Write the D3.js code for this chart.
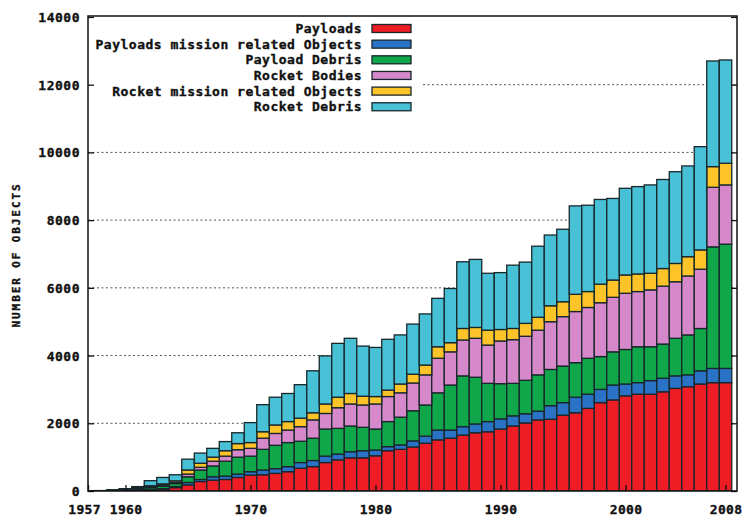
<!DOCTYPE html>
<html>
<head>
<meta charset="utf-8">
<script src="https://cdn.jsdelivr.net/npm/d3@7"></script>
<style>
  html, body { margin: 0; padding: 0; background: #fff; }
  svg { display: block; }
  text { font-family: "DejaVu Sans Mono", monospace; font-weight: bold; fill: #111; stroke: #111; stroke-width: 0.35px; }
</style>
</head>
<body>
<svg id="chart" width="748" height="523"></svg>
<script>
// ---- data (number of objects per category) ----
const years = [1957,1958,1959,1960,1961,1962,1963,1964,1965,1966,1967,1968,1969,1970,
  1971,1972,1973,1974,1975,1976,1977,1978,1979,1980,1981,1982,1983,1984,1985,1986,1987,
  1988,1989,1990,1991,1992,1993,1994,1995,1996,1997,1998,1999,2000,2001,2002,2003,2004,
  2005,2006,2007,2008];
const payloads = [2,5,10,20,30,35,50,100,180,280,320,340,400,470,480,520,570,670,720,840,
  920,980,980,1040,1190,1230,1300,1410,1510,1560,1650,1720,1750,1830,1920,2010,2100,2120,
  2240,2310,2440,2610,2690,2810,2860,2860,2930,3030,3080,3160,3200,3200];
const payloadMission = [0,0,2,5,10,20,20,30,70,60,100,100,100,100,140,140,150,170,180,190,
  170,180,210,170,120,130,180,210,290,240,250,260,300,300,300,270,260,400,370,460,420,390,
  440,350,340,400,400,370,350,390,420,420];
const payloadDebris = [0,0,3,8,20,50,70,90,170,280,320,440,500,460,610,690,710,630,660,800,
  760,760,690,620,740,820,890,920,1100,1330,1500,1380,1130,1040,960,990,1070,1070,1080,1020,
  1060,970,980,1020,1060,1000,1010,1110,1180,1250,3590,3670];
const rocketBodies = [2,5,10,20,30,20,30,30,80,80,140,150,220,230,330,350,370,430,540,460,
  610,650,660,740,740,720,820,890,1020,980,1060,1150,1130,1260,1290,1300,1320,1410,1460,1510,
  1500,1590,1610,1660,1630,1680,1710,1670,1740,1750,1760,1750];
const rocketMission = [0,0,2,5,10,30,40,50,120,120,120,160,180,170,190,250,250,250,210,280,
  310,310,260,220,190,260,260,290,340,270,340,320,440,340,330,380,380,470,440,510,470,550,
  510,540,520,490,520,540,570,570,610,640];
const rocketDebris = [0,3,5,10,30,150,190,180,320,300,260,270,320,590,800,820,830,990,1240,
  1420,1590,1630,1480,1450,1500,1450,1480,1510,1430,1600,1970,2010,1680,1680,1870,1810,2100,
  2090,2140,2610,2550,2500,2410,2560,2580,2610,2630,2710,2680,3050,3120,3050];

const seriesNames = ["Payloads", "Payloads mission related Objects", "Payload Debris",
  "Rocket Bodies", "Rocket mission related Objects", "Rocket Debris"];
const seriesColors = ["#ee1c24", "#2a72c6", "#10a64a", "#d689ca", "#fdc42a", "#48c0d6"];
const yTicks = [0,2000,4000,6000,8000,10000,12000,14000];
const gridTicks = [2000,4000,6000,8000,10000,12000];
const xTicks = [1957,1960,1970,1980,1990,2000,2008];
const yLabel = "NUMBER OF OBJECTS";

// ---- build table ----
const seriesArrays = [payloads, payloadMission, payloadDebris, rocketBodies, rocketMission, rocketDebris];
const table = years.map((yr, i) => {
  const row = { year: yr };
  seriesNames.forEach((n, k) => { row[n] = seriesArrays[k][i]; });
  return row;
});

const svg = d3.select("#chart");
const L = 88, R = 737, T = 16, B = 491;
const x = d3.scaleLinear().domain([1957, 2009]).range([L, L + 52 * 12.5]);
const y = d3.scaleLinear().domain([0, 14000]).range([B, B - 14 * 33.86]);

svg.append("defs").append("clipPath").attr("id", "plotclip")
  .append("rect").attr("x", L).attr("y", T).attr("width", R - L).attr("height", B - T);

// grid
const grid = svg.append("g");
grid.selectAll("line").data(gridTicks).join("line")
  .attr("x1", d => d === 12000 ? 423 : L)
  .attr("x2", R)
  .attr("y1", d => y(d)).attr("y2", d => y(d))
  .attr("stroke", "#555").attr("stroke-width", 1)
  .attr("stroke-dasharray", "2,2.5");

// bars
const stack = d3.stack().keys(seriesNames)(table);
const bars = svg.append("g").attr("clip-path", "url(#plotclip)");
stack.forEach((layer, k) => {
  bars.append("g").selectAll("rect").data(layer).join("rect")
    .attr("x", d => x(d.data.year - 0.5))
    .attr("width", d => x(d.data.year + 0.5) - x(d.data.year - 0.5))
    .attr("y", d => y(d[1]))
    .attr("height", d => Math.max(0, y(d[0]) - y(d[1])))
    .attr("fill", seriesColors[k])
    .attr("stroke", "#18262a")
    .attr("stroke-width", 1.3);
});

// border
svg.append("rect").attr("x", L).attr("y", T).attr("width", R - L).attr("height", B - T)
  .attr("fill", "none").attr("stroke", "#111").attr("stroke-width", 1.5);

// left axis
const yAxis = d3.axisLeft(y).tickValues(yTicks).tickSizeInner(-6).tickSizeOuter(0).tickPadding(8)
  .tickFormat(d3.format("d"));
const gy = svg.append("g").attr("transform", `translate(${L},0)`).call(yAxis);
gy.select(".domain").remove();
gy.selectAll("line").attr("stroke", "#111").attr("stroke-width", 1.3);
gy.selectAll("text").style("font-size", "13px").style("letter-spacing", "0.5px")
  .attr("fill", "#111").attr("dy", "0.35em");

// right mirror ticks
const yAxisR = d3.axisRight(y).tickValues(yTicks).tickSizeInner(-6).tickSizeOuter(0).tickFormat("");
const gyr = svg.append("g").attr("transform", `translate(${R},0)`).call(yAxisR);
gyr.select(".domain").remove();
gyr.selectAll("line").attr("stroke", "#111").attr("stroke-width", 1.3);

// bottom axis
const xAxis = d3.axisBottom(x).tickValues(xTicks).tickSizeInner(-6).tickSizeOuter(0).tickPadding(14)
  .tickFormat(d3.format("d"));
const gx = svg.append("g").attr("transform", `translate(0,${B})`).call(xAxis);
gx.select(".domain").remove();
gx.selectAll("line").attr("stroke", "#111").attr("stroke-width", 1.3);
gx.selectAll("text").style("font-size", "13px").style("letter-spacing", "0.3px")
  .attr("fill", "#111").attr("dx", d => d === 1957 ? -4 : 0);

// y label
svg.append("text")
  .attr("transform", "translate(19.5,255) rotate(-90)")
  .attr("text-anchor", "middle")
  .style("font-size", "11px").style("letter-spacing", "1.9px")
  .text(yLabel);

// legend
const legend = svg.append("g");
seriesNames.forEach((n, k) => {
  const cy = 28.5 + k * 15.65;
  legend.append("text").attr("x", 362).attr("y", cy + 4.5)
    .attr("text-anchor", "end")
    .style("font-size", "13px").style("letter-spacing", "0.5px")
    .text(n);
  legend.append("rect").attr("x", 372).attr("y", cy - 4).attr("width", 39).attr("height", 8)
    .attr("fill", seriesColors[k]).attr("stroke", "#18262a").attr("stroke-width", 1.3);
});
</script>
</body>
</html>
